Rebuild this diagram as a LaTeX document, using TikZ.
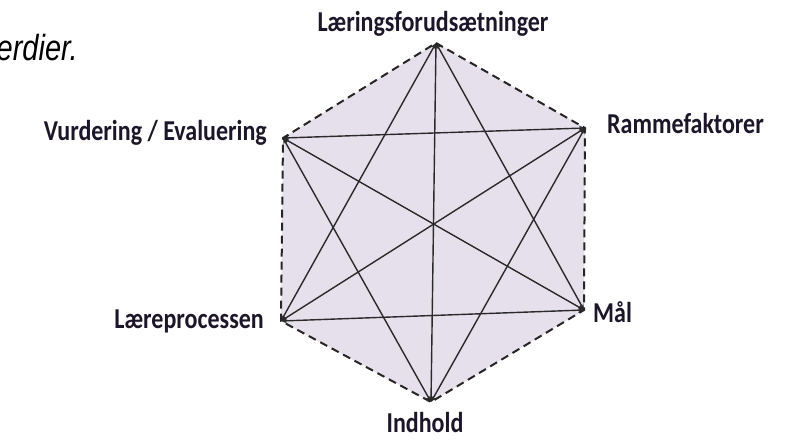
\documentclass[tikz,border=0pt]{standalone}
\usepackage{fontspec}
\setsansfont{Carlito}
\newfontfamily\notefont{Liberation Sans}
\usetikzlibrary{arrows.meta}

\definecolor{lavender}{HTML}{E6E0EC}
\definecolor{labelink}{HTML}{1C1628}
\definecolor{lineink}{HTML}{2A2A2A}

% the labels are a little taller than wide
\newcommand{\tallbox}[1]{\scalebox{1}[1.2]{#1}}

\tikzset{
  factor/.style={font=\sffamily\bfseries\fontsize{24}{26}\selectfont, text=labelink, inner sep=0pt},
  side/.style={dashed, dash pattern=on 8pt off 5pt, line width=2pt, draw=black!85},
  link/.style={draw=lineink, line width=1.4pt, {Stealth[length=6pt,width=5pt]}-{Stealth[length=6pt,width=5pt]}},
}

\begin{document}
\begin{tikzpicture}[x=1pt, y=-1pt]
  \useasboundingbox (0,0) rectangle (794,440);

  % corners of the hexagon
  \coordinate (laering) at (436,43);
  \coordinate (ramme) at (585,128);
  \coordinate (maal) at (584,310);
  \coordinate (indhold) at (431,402);
  \coordinate (laere) at (281,321);
  \coordinate (vurdering) at (283,138);

  \fill[lavender] (laering) -- (ramme) -- (maal) -- (indhold) -- (laere) -- (vurdering) -- cycle;

  % all the links between the factors
  \draw[link] (laering) -- (indhold);
  \draw[link] (laering) -- (laere);
  \draw[link] (laering) -- (maal);
  \draw[link] (vurdering) -- (ramme);
  \draw[link] (vurdering) -- (maal);
  \draw[link] (vurdering) -- (indhold);
  \draw[link] (ramme) -- (laere);
  \draw[link] (ramme) -- (indhold);
  \draw[link] (laere) -- (maal);

  \draw[side] (laering) -- (ramme) -- (maal) -- (indhold) -- (laere) -- (vurdering) -- cycle;

  \node[factor, anchor=base] (laeringlabel) at (433,31) {\tallbox{Læringsforudsætninger}};
  \node[factor, anchor=base west] (rammelabel) at (607,133) {\tallbox{Rammefaktorer}};
  \node[factor, anchor=base west] (maallabel) at (593,322) {\tallbox{Mål}};
  \node[factor, anchor=base] (indholdlabel) at (425,432) {\tallbox{Indhold}};
  \node[factor, anchor=base east] (laerelabel) at (264,328) {\tallbox{Læreprocessen}};
  \node[factor, anchor=base east] (vurderinglabel) at (267,140) {\tallbox{Vurdering / Evaluering}};

  \node[font=\notefont\itshape\fontsize{29}{31}\selectfont, anchor=base east, inner sep=0pt] (note) at (78,60) {\scalebox{1}[1.25]{erdier.}};
\end{tikzpicture}
\end{document}
